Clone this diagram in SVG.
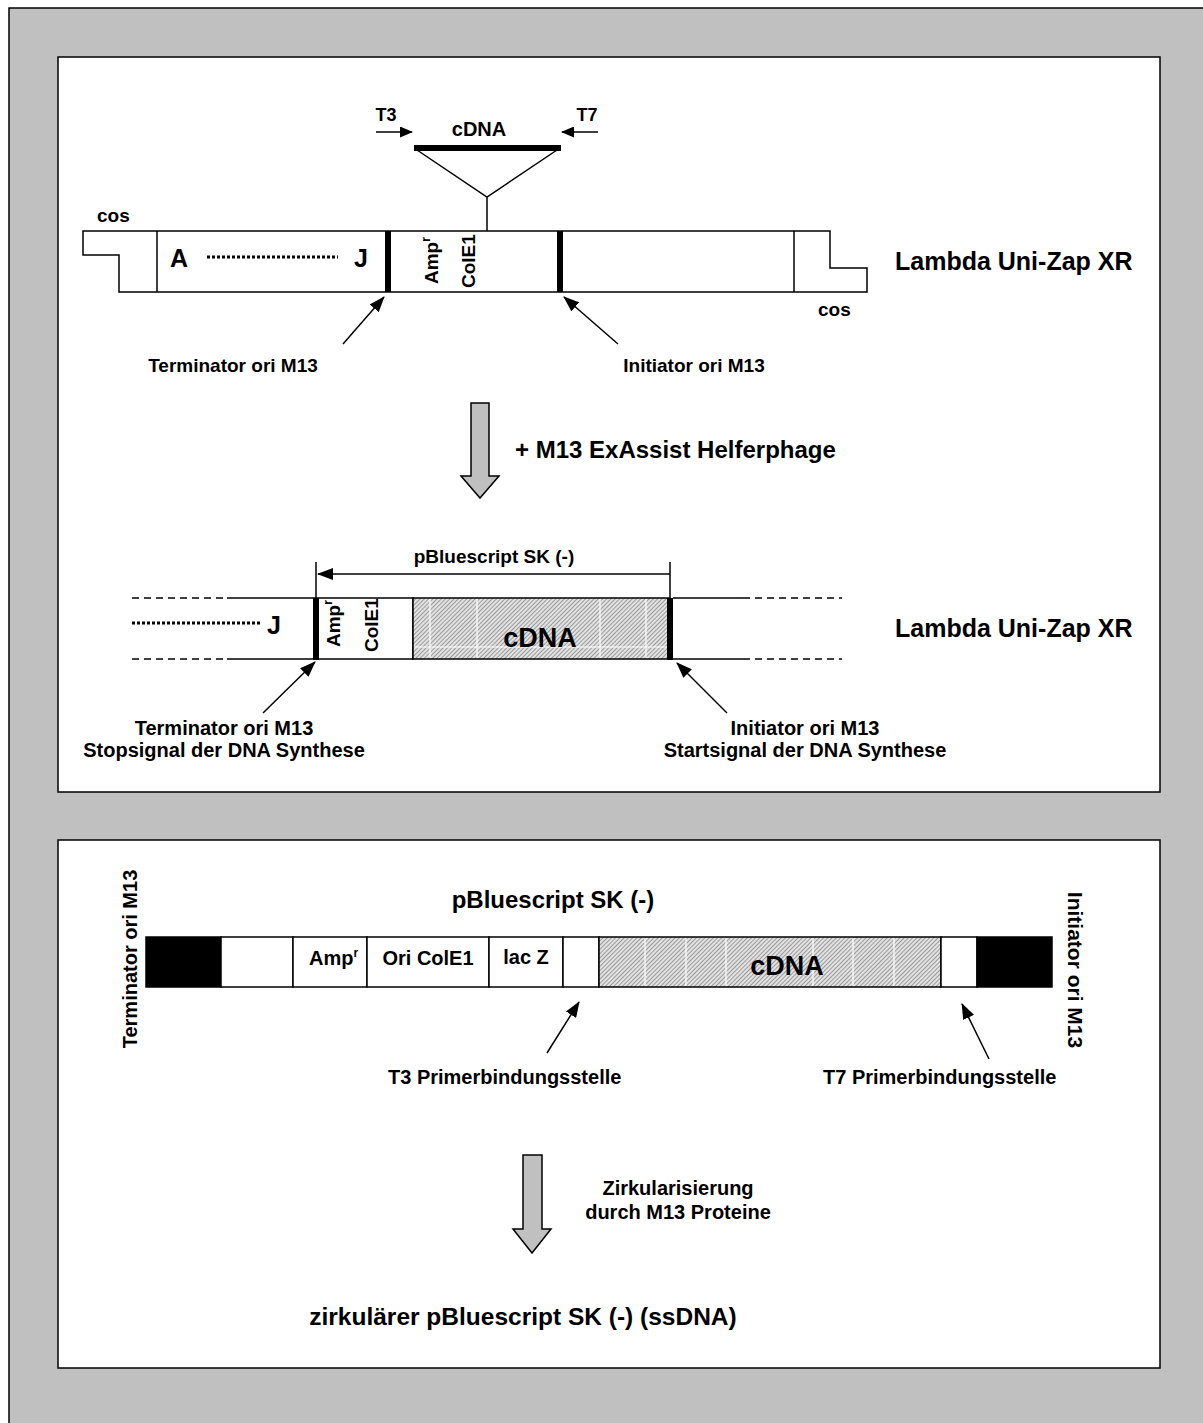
<svg xmlns="http://www.w3.org/2000/svg" width="1203" height="1423" viewBox="0 0 1203 1423">
<defs>
<style>
text{font-family:"Liberation Sans",Arial,Helvetica,sans-serif;font-weight:bold;fill:#000}
.l{stroke:#000;stroke-width:1.5;fill:none}
.shape{stroke:#000;stroke-width:1.5;fill:#fff}
.thick{fill:#000}
.cell{fill:#fff;stroke:#000;stroke-width:1.5}
.blk{fill:#000;stroke:#000;stroke-width:1.5}
.cd{fill:url(#hatch);stroke:#000;stroke-width:1.5}
.wl{stroke:#fff;stroke-width:1.2}
.dash{stroke:#000;stroke-width:1.5;stroke-dasharray:7,5;fill:none}
.dot{stroke:#000;stroke-width:3;stroke-dasharray:3,2;fill:none}
.ga{fill:#c0c0c0;stroke:#000;stroke-width:1.5}
.ptr{stroke:#000;stroke-width:1.5;fill:none;marker-end:url(#ah)}
.pr{stroke:#000;stroke-width:1.5;fill:none;marker-end:url(#ahs)}
</style>
<marker id="ah" viewBox="0 0 16 12" refX="15" refY="6" markerWidth="16" markerHeight="12" markerUnits="userSpaceOnUse" orient="auto"><path d="M0,0 L16,6 L0,12 z" fill="#000"/></marker>
<marker id="ahs" viewBox="0 0 13 11" refX="12" refY="5.5" markerWidth="13" markerHeight="11" markerUnits="userSpaceOnUse" orient="auto"><path d="M0,0 L13,5.5 L0,11 z" fill="#000"/></marker>
<pattern id="hatch" width="3" height="3" patternUnits="userSpaceOnUse" patternTransform="rotate(45)"><rect width="3" height="3" fill="#e2e2e2"/><rect width="1" height="3" fill="#9a9a9a"/></pattern>
</defs>

<rect width="1203" height="1423" fill="#fff"/>
<rect id="frame" x="9" y="8" width="1210" height="1430" fill="#c0c0c0" stroke="#000" stroke-width="1.5"/>
<rect id="panel-top" x="58" y="57" width="1102" height="735" fill="#fff" stroke="#000" stroke-width="1.5"/>
<rect id="panel-bottom" x="58" y="840" width="1102" height="528" fill="#fff" stroke="#000" stroke-width="1.5"/>

<g id="cdna-insert">
<text x="479" y="136" font-size="20" text-anchor="middle">cDNA</text>
<rect x="414" y="145" width="147" height="6" fill="#000"/>
<path class="l" d="M417,150 L487,197 L557,150 M487,197 V243"/>
<text x="386" y="121" font-size="18" text-anchor="middle">T3</text>
<text x="587" y="121" font-size="18" text-anchor="middle">T7</text>
</g>

<g id="lambda-uni-zap">
<path class="shape" d="M83,231 H830 V268 H867 V292 H119 V255 H83 Z"/>
<line class="l" x1="157" y1="231" x2="157" y2="292"/>
<line class="l" x1="794" y1="231" x2="794" y2="292"/>
<rect class="thick" x="385" y="231" width="6" height="61"/>
<rect class="thick" x="557" y="231" width="6" height="61"/>
<text x="97" y="222" font-size="19">cos</text>
<text x="818" y="316" font-size="19">cos</text>
<text x="170" y="267" font-size="25">A</text>
<line class="dot" x1="207" y1="257" x2="338" y2="257"/>
<text x="354" y="267" font-size="25">J</text>
<text transform="translate(438,284) rotate(-90)" font-size="19">Amp<tspan font-size="12" dy="-8">r</tspan></text>
<text transform="translate(475,288) rotate(-90)" font-size="19">ColE1</text>
<text x="895" y="270" font-size="25">Lambda Uni-Zap XR</text>
<text x="233" y="372" font-size="19" text-anchor="middle">Terminator ori M13</text>
<text x="694" y="372" font-size="19" text-anchor="middle">Initiator ori M13</text>
</g>

<g id="step-label-1">
<text x="515" y="458" font-size="24">+ M13 ExAssist Helferphage</text>
</g>

<g id="excised-region">
<line class="dash" x1="132" y1="598" x2="227" y2="598"/>
<line class="dash" x1="132" y1="659" x2="227" y2="659"/>
<line class="l" x1="227" y1="598" x2="316" y2="598"/>
<line class="l" x1="227" y1="659" x2="316" y2="659"/>
<rect class="cell" x="316" y="598" width="97" height="61"/>
<rect class="cd" x="413" y="598" width="256" height="61"/>
<line class="wl" x1="430" y1="599" x2="430" y2="658"/>
<line class="wl" x1="477" y1="599" x2="477" y2="658"/>
<line class="wl" x1="600" y1="599" x2="600" y2="658"/>
<line class="wl" x1="646" y1="599" x2="646" y2="658"/>
<line class="wl" x1="414" y1="647" x2="668" y2="647"/>
<rect class="thick" x="313" y="598" width="6" height="62"/>
<rect class="thick" x="667" y="598" width="6" height="62"/>
<line class="l" x1="673" y1="598" x2="743" y2="598"/>
<line class="l" x1="673" y1="659" x2="743" y2="659"/>
<line class="dash" x1="743" y1="598" x2="842" y2="598"/>
<line class="dash" x1="743" y1="659" x2="842" y2="659"/>
<line class="dot" x1="132" y1="623" x2="260" y2="623"/>
<text x="267" y="634" font-size="25">J</text>
<text transform="translate(340,647) rotate(-90)" font-size="19">Amp<tspan font-size="12" dy="-8">r</tspan></text>
<text transform="translate(378,652) rotate(-90)" font-size="19">ColE1</text>
<text x="540" y="647" font-size="27" text-anchor="middle">cDNA</text>
<text x="494" y="563" font-size="19" text-anchor="middle">pBluescript SK (-)</text>
<line class="l" x1="316" y1="562" x2="316" y2="598"/>
<line class="l" x1="670" y1="562" x2="670" y2="598"/>
<text x="895" y="637" font-size="25">Lambda Uni-Zap XR</text>
<text x="224" y="735" font-size="20" text-anchor="middle">Terminator ori M13</text>
<text x="224" y="757" font-size="20" text-anchor="middle">Stopsignal der DNA Synthese</text>
<text x="805" y="735" font-size="20" text-anchor="middle">Initiator ori M13</text>
<text x="805" y="757" font-size="20" text-anchor="middle">Startsignal der DNA Synthese</text>
</g>

<g id="pbluescript">
<text x="553" y="908" font-size="24" text-anchor="middle">pBluescript SK (-)</text>
<rect class="blk" x="146" y="937" width="75" height="50"/>
<rect class="cell" x="221" y="937" width="72" height="50"/>
<rect class="cell" x="293" y="937" width="74" height="50"/>
<rect class="cell" x="367" y="937" width="122" height="50"/>
<rect class="cell" x="489" y="937" width="74" height="50"/>
<rect class="cell" x="563" y="937" width="36" height="50"/>
<rect class="cd" x="599" y="937" width="342" height="50"/>
<line class="wl" x1="645" y1="938" x2="645" y2="986"/>
<line class="wl" x1="686" y1="938" x2="686" y2="986"/>
<line class="wl" x1="726" y1="938" x2="726" y2="986"/>
<line class="wl" x1="813" y1="938" x2="813" y2="986"/>
<line class="wl" x1="853" y1="938" x2="853" y2="986"/>
<line class="wl" x1="894" y1="938" x2="894" y2="986"/>
<rect class="cell" x="941" y="937" width="36" height="50"/>
<rect class="blk" x="977" y="937" width="75" height="50"/>
<text x="309" y="965" font-size="20">Amp<tspan font-size="12" dy="-8">r</tspan></text>
<text x="428" y="965" font-size="20" text-anchor="middle">Ori ColE1</text>
<text x="526" y="964" font-size="20" text-anchor="middle">lac Z</text>
<text x="787" y="975" font-size="27" text-anchor="middle">cDNA</text>
<text transform="translate(137,959) rotate(-90)" font-size="20" text-anchor="middle">Terminator ori M13</text>
<text transform="translate(1068,970) rotate(90)" font-size="21" text-anchor="middle">Initiator ori M13</text>
<text x="388" y="1084" font-size="20">T3 Primerbindungsstelle</text>
<text x="823" y="1084" font-size="20">T7 Primerbindungsstelle</text>
</g>

<g id="step-label-2">
<text x="678" y="1195" font-size="20" text-anchor="middle">Zirkularisierung</text>
<text x="678" y="1219" font-size="20" text-anchor="middle">durch M13 Proteine</text>
</g>

<g id="result">
<text x="523" y="1325" font-size="24.5" text-anchor="middle">zirkulärer pBluescript SK (-) (ssDNA)</text>
</g>

<g id="connectors">
<line class="pr" x1="376" y1="132" x2="412" y2="132"/>
<line class="pr" x1="598" y1="132" x2="562" y2="132"/>
<line class="ptr" x1="343" y1="344" x2="384" y2="297"/>
<line class="ptr" x1="618" y1="344" x2="564" y2="297"/>
<polygon class="ga" points="471,403 489,403 489,476 499,476 480,498 461,476 471,476"/>
<line class="l" x1="670" y1="574" x2="318" y2="574" style="marker-end:url(#ah)"/>
<line class="ptr" x1="263" y1="713" x2="315" y2="662"/>
<line class="ptr" x1="727" y1="713" x2="677" y2="663"/>
<line class="ptr" x1="547" y1="1053" x2="579" y2="1002"/>
<line class="ptr" x1="989" y1="1059" x2="962" y2="1004"/>
<polygon class="ga" points="523,1155 542,1155 542,1229 551,1229 532,1253 513,1229 523,1229"/>
</g>
</svg>
